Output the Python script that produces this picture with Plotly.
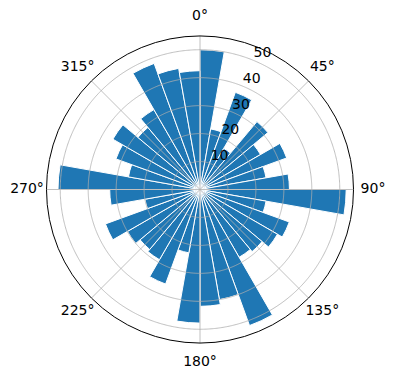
import plotly.graph_objects as go

# bar start angles (degrees, clockwise from north), each bar 10 degrees wide
bin_start = list(range(0, 360, 10))
bin_width = 10
counts = [50, 22, 37, 17, 31.7, 25, 33, 24, 32,
          52.3, 24, 34, 32, 29, 28, 51.8, 40, 41.8,
          47.8, 23, 36, 29, 28, 30, 36, 20, 32.3,
          50.8, 26, 32, 36, 29, 33, 48, 44, 42.5]
angle_ticks = [0, 45, 90, 135, 180, 225, 270, 315]
angle_labels = [f"{a}°" for a in angle_ticks]
r_ticks = [10, 20, 30, 40, 50]
r_label_angle = 22.5
r_max = max(counts) * 1.05

theta_centers = [s + bin_width / 2 for s in bin_start]

W, H = 396, 380
cx, cy, R = 200, 189.5, 153.5
R_lab = 173.0  # angular labels sit ~173px from the centre

fig = go.Figure()
fig.add_trace(go.Barpolar(
    r=counts,
    theta=theta_centers,
    width=[bin_width] * len(counts),
    marker=dict(color="#1f77b4", line=dict(color="white", width=1)),
    opacity=1,
    hoverinfo="skip",
))

# grid drawn above the bars (as matplotlib does)
grid_style = dict(color="#b0b0b0", width=0.8)
ring_theta = [t * 0.5 for t in range(0, 721)]
for rv in r_ticks:
    fig.add_trace(go.Scatterpolar(r=[rv] * len(ring_theta), theta=ring_theta,
                                  mode="lines", line=grid_style, hoverinfo="skip"))
for a in angle_ticks:
    fig.add_trace(go.Scatterpolar(r=[0, r_max], theta=[a, a], mode="lines",
                                  line=grid_style, hoverinfo="skip"))

# radial tick labels along the 22.5 degree line
fig.add_trace(go.Scatterpolar(
    r=r_ticks, theta=[r_label_angle] * len(r_ticks),
    mode="text", text=[str(v) for v in r_ticks],
    textposition="top right",
    textfont=dict(family="DejaVu Sans", size=14, color="black"),
    hoverinfo="skip", cliponaxis=False,
))

# angular tick labels, centred outside the circle (on an overlaid, larger polar)
fig.add_trace(go.Scatterpolar(
    r=[1] * len(angle_ticks), theta=angle_ticks,
    mode="text", text=angle_labels, textposition="middle center",
    textfont=dict(family="DejaVu Sans", size=14, color="black"),
    hoverinfo="skip", cliponaxis=False, subplot="polar2",
))


def dom(rad):
    return dict(x=[(cx - rad) / W, (cx + rad) / W],
                y=[1 - (cy + rad) / H, 1 - (cy - rad) / H])


hidden_axis = dict(showline=False, showgrid=False, showticklabels=False, ticks="")

fig.update_layout(
    width=W, height=H,
    margin=dict(l=0, r=0, t=0, b=0),
    paper_bgcolor="white",
    showlegend=False,
    font=dict(family="DejaVu Sans", size=14, color="black"),
    polar=dict(
        domain=dom(R),
        bgcolor="white",
        bargap=0,
        angularaxis=dict(
            rotation=90, direction="clockwise",
            tickvals=angle_ticks, showticklabels=False, ticks="",
            showline=True, linecolor="black", linewidth=1,
            showgrid=False,
            layer="above traces",
        ),
        radialaxis=dict(
            range=[0, r_max], tickvals=r_ticks,
            showticklabels=False, ticks="",
            showline=False, showgrid=False,
        ),
    ),
    polar2=dict(
        domain=dom(R_lab + 1),
        bgcolor="rgba(0,0,0,0)",
        angularaxis=dict(rotation=90, direction="clockwise", **hidden_axis),
        radialaxis=dict(range=[0, R_lab + 1], **hidden_axis),
    ),
)
fig.data[-1].r = [R_lab] * len(angle_ticks)

fig.write_html("out.html")
